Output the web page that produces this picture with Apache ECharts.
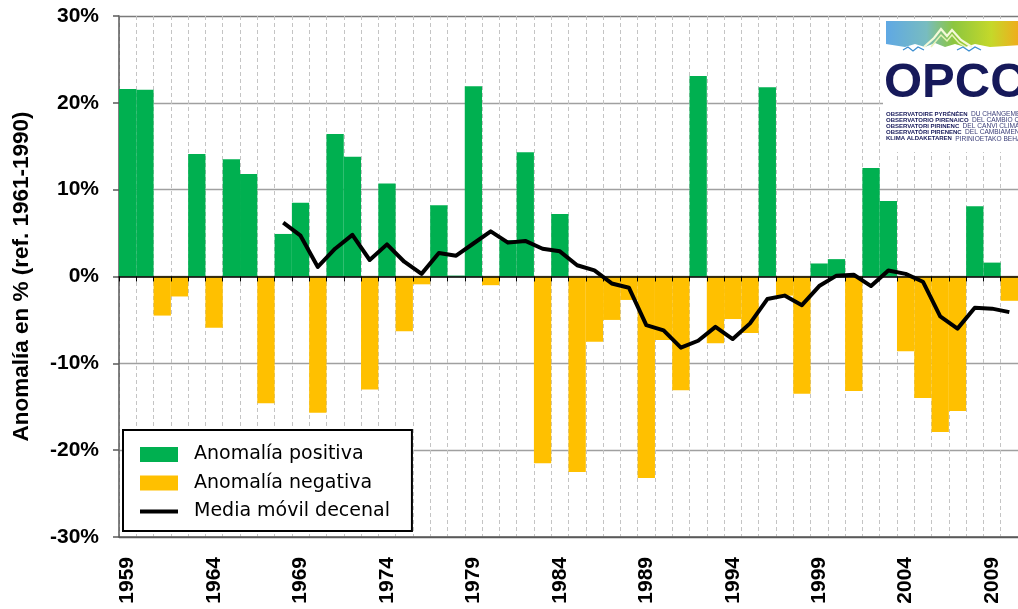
<!DOCTYPE html>
<html>
<head>
<meta charset="utf-8">
<script src="https://cdn.jsdelivr.net/npm/echarts@6/dist/echarts.min.js"></script>
<style>
html,body{margin:0;padding:0;background:#fff;}
#chart{width:1018px;height:609px;}
</style>
</head>
<body>
<div id="chart"></div>
<script>
const years = ['1959','1960','1961','1962','1963','1964','1965','1966','1967','1968','1969','1970','1971','1972','1973','1974','1975','1976','1977','1978','1979','1980','1981','1982','1983','1984','1985','1986','1987','1988','1989','1990','1991','1992','1993','1994','1995','1996','1997','1998','1999','2000','2001','2002','2003','2004','2005','2006','2007','2008','2009','2010'];
const anomalia = [21.6, 21.5, -4.5, -2.3, 14.1, -5.9, 13.5, 11.8, -14.6, 4.9, 8.5, -15.7, 16.4, 13.8, -13.0, 10.7, -6.3, -0.9, 8.2, 0.1, 21.9, -1.0, 4.2, 14.3, -21.5, 7.2, -22.5, -7.5, -5.0, -2.7, -23.2, -7.3, -13.1, 23.1, -7.7, -4.9, -6.5, 21.8, -2.2, -13.5, 1.5, 2.0, -13.2, 12.5, 8.7, -8.6, -14.0, -17.9, -15.5, 8.1, 1.6, -2.8];
const mediaMovil = [null, null, null, null, null, null, null, null, null, 6.2, 4.7, 1.1, 3.2, 4.8, 1.9, 3.7, 1.7, 0.3, 2.7, 2.4, 3.8, 5.2, 3.9, 4.1, 3.2, 2.9, 1.3, 0.7, -0.8, -1.3, -5.6, -6.2, -8.2, -7.4, -5.8, -7.2, -5.4, -2.6, -2.2, -3.3, -1.1, 0.1, 0.2, -1.1, 0.7, 0.3, -0.6, -4.6, -6.0, -3.6, -3.7, -4.1];
const yTicks = [-30, -20, -10, 0, 10, 20, 30];
const seriesNames = ['Anomalía positiva', 'Anomalía negativa', 'Media móvil decenal'];
const yTitle = 'Anomalía en % (ref. 1961-1990)';
const logoLines = [
  ['OBSERVATOIRE PYRÉNÉEN', 'DU CHANGEMENT CLIMATIQUE'],
  ['OBSERVATORIO PIRENAICO', 'DEL CAMBIO CLIMÁTICO'],
  ['OBSERVATORI PIRINENC', 'DEL CANVI CLIMÀTIC'],
  ['OBSERVATÒRI PIRENENC', 'DEL CAMBIAMENT CLIMATIC'],
  ['KLIMA ALDAKETAREN', 'PIRINIOETAKO BEHATOKIA']
];

const positiva = anomalia.map(v => v > 0 ? v : '-');
const negativa = anomalia.map(v => v < 0 ? v : '-');
const media = mediaMovil.map(v => v === null ? '-' : v);

const chart = echarts.init(document.getElementById('chart'), null, {renderer: 'canvas'});
const bold = {fontFamily: 'Liberation Sans, Arial, sans-serif', fontWeight: 'bold', color: '#000'};

const logoGraphics = [
  {type: 'rect', shape: {x: 883, y: 19, width: 140, height: 133}, style: {fill: '#fff'}, z: 100},
  {type: 'rect', shape: {x: 886, y: 21, width: 135, height: 30},
   style: {fill: new echarts.graphic.LinearGradient(0, 0, 1, 0, [
     {offset: 0, color: '#5fa8e4'}, {offset: 0.3, color: '#78bcc0'},
     {offset: 0.5, color: '#8cc63f'}, {offset: 0.78, color: '#c5d82a'}, {offset: 1, color: '#f3a91c'}])}, z: 101},
  {type: 'polygon', shape: {points: [[886, 44], [905, 47], [915, 44], [925, 47], [935, 43], [945, 47], [955, 44], [965, 47], [975, 44], [990, 47], [1020, 45], [1020, 52], [886, 52]]},
   style: {fill: '#fff'}, z: 102},
  {type: 'polyline', shape: {points: [[924, 47], [934, 38], [941, 29], [947, 36], [952, 30], [961, 40], [972, 47]]},
   style: {stroke: '#f4f9d8', lineWidth: 2.2, fill: null}, z: 103},
  {type: 'polyline', shape: {points: [[931, 47], [941, 35], [947, 41], [952, 35], [959, 43], [966, 47]]},
   style: {stroke: '#e6f3b5', lineWidth: 1.5, fill: null}, z: 103},
  {type: 'polyline', shape: {points: [[903, 50], [908, 47], [913, 51], [918, 47], [924, 50]]},
   style: {stroke: '#3d8fd1', lineWidth: 1.3, fill: null}, z: 104},
  {type: 'polyline', shape: {points: [[957, 50], [963, 47], [969, 51], [975, 47], [981, 50]]},
   style: {stroke: '#3d8fd1', lineWidth: 1.3, fill: null}, z: 104},
  {type: 'text', x: 884, y: 59, style: {text: 'OPCC', fontSize: 49, fontWeight: 'bold',
   fontFamily: 'Liberation Sans, Arial, sans-serif', fill: '#16195a'}, z: 104}
];
logoLines.forEach((ln, i) => {
  logoGraphics.push({
    type: 'text', x: 886, y: 108 + i * 6.2, z: 104,
    style: {
      text: '{b|' + ln[0] + '} {n|' + ln[1] + '}',
      rich: {
        b: {fontSize: 6, fontWeight: 'bold', fontFamily: 'Liberation Sans Narrow, Liberation Sans, sans-serif', fill: '#16195a'},
        n: {fontSize: 6.6, fontFamily: 'Liberation Sans Narrow, Liberation Sans, sans-serif', fill: '#3a3d78'}
      }
    }
  });
});

const option = {
  animation: false,
  backgroundColor: '#fff',
  grid: {left: 119, top: 16, width: 909, height: 521, containLabel: false},
  legend: {
    orient: 'vertical', left: 123, top: 430,
    padding: [15, 22, 10, 17], itemGap: 9.5,
    backgroundColor: '#fff', borderColor: '#000', borderWidth: 2,
    itemWidth: 38, itemHeight: 15,
    textStyle: {fontFamily: 'DejaVu Sans', fontSize: 19, color: '#000', padding: [0, 0, 0, 11]},
    data: [
      {name: seriesNames[0], icon: 'rect'},
      {name: seriesNames[1], icon: 'rect'},
      {name: seriesNames[2], icon: 'path://M0,0H38V4H0Z', itemStyle: {color: '#000'}}
    ],
    z: 20
  },
  xAxis: [
    {
      type: 'category', data: years, position: 'bottom',
      axisLine: {onZero: false, lineStyle: {color: '#595959', width: 1.5}},
      axisTick: {show: false},
      axisLabel: Object.assign({interval: 4, rotate: 90, fontSize: 21, margin: 20}, bold),
      splitLine: {show: true, interval: 0, lineStyle: {color: '#c4c4c4', type: [4, 3], width: 1}}
    },
    {
      type: 'category', data: years, position: 'top', z: 5,
      axisLine: {onZero: true, lineStyle: {color: '#000', width: 1.6}},
      axisTick: {show: true, inside: true, interval: 0, length: 5, lineStyle: {color: '#000', width: 1}},
      axisLabel: {show: false},
      splitLine: {show: false}
    }
  ],
  yAxis: {
    type: 'value', min: -30, max: 30, interval: 10,
    name: yTitle, nameLocation: 'middle', nameRotate: 90, nameGap: 86,
    nameTextStyle: Object.assign({fontSize: 22.5}, bold),
    axisLine: {show: true, lineStyle: {color: '#595959', width: 1.5}},
    axisTick: {show: true, length: 6, lineStyle: {color: '#595959', width: 1.5}},
    axisLabel: Object.assign({fontSize: 21, margin: 20, formatter: v => yTicks.includes(v) ? v + '%' : ''}, bold),
    splitLine: {show: true, lineStyle: {color: ['#595959', '#a0a0a0', '#a0a0a0', '#a0a0a0', '#a0a0a0', '#a0a0a0', '#7a7a7a'], width: 1.3}}
  },
  series: [
    {name: seriesNames[0], type: 'bar', data: positiva, barGap: '-100%', barCategoryGap: '0%',
     itemStyle: {color: '#00b050'}, z: 2},
    {name: seriesNames[1], type: 'bar', data: negativa, barGap: '-100%', barCategoryGap: '0%',
     itemStyle: {color: '#ffc000'}, z: 2},
    {name: seriesNames[2], type: 'line', data: media, symbol: 'none', showSymbol: false,
     lineStyle: {color: '#000', width: 4, join: 'round'}, itemStyle: {color: '#000'}, z: 6}
  ],
  graphic: logoGraphics
};
chart.setOption(option);
</script>
</body>
</html>
